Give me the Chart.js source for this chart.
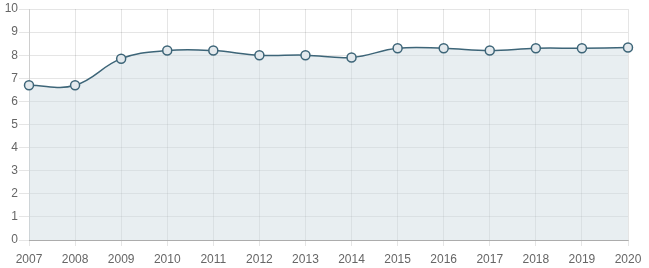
<!DOCTYPE html>
<html>
<head>
<meta charset="utf-8">
<script src="https://cdn.jsdelivr.net/npm/chart.js@4/dist/chart.umd.min.js"></script>
<style>
  html, body { margin: 0; padding: 0; background: #fff; }
  #wrap { width: 649px; height: 268px; }
</style>
</head>
<body>
<div id="wrap"><canvas id="chart"></canvas></div>
<script>
// Data
const years = ['2007', '2008', '2009', '2010', '2011', '2012', '2013', '2014', '2015', '2016', '2017', '2018', '2019', '2020'];
const values = [6.7, 6.7, 7.85, 8.2, 8.2, 8.0, 8.0, 7.9, 8.3, 8.3, 8.2, 8.3, 8.3, 8.33];
const yTicks = [0, 1, 2, 3, 4, 5, 6, 7, 8, 9, 10];

Chart.defaults.font.family = '"Liberation Sans", Arial, sans-serif';
Chart.defaults.font.size = 12;
Chart.defaults.color = '#666';

const ctx = document.getElementById('chart').getContext('2d');

new Chart(ctx, {
    type: 'line',
    data: {
        labels: years,
        datasets: [{
            data: values,
            borderColor: '#3d6578',
            borderWidth: 1.5,
            backgroundColor: 'rgba(205, 217, 224, 0.45)',
            fill: 'origin',
            tension: 0.4,
            pointRadius: 4.5,
            pointHoverRadius: 4.5,
            pointBorderWidth: 1.5,
            pointBorderColor: '#3d6578',
            pointBackgroundColor: '#e3e9ed',
        }]
    },
    options: {
        responsive: true,
        maintainAspectRatio: false,
        animation: false,
        layout: { padding: { top: 9, right: 21, left: 0, bottom: 0 } },
        plugins: {
            legend: { display: false },
            tooltip: { enabled: false }
        },
        scales: {
            x: {
                offset: false,
                grid: { color: 'rgba(0,0,0,0.1)', tickLength: 6 },
                border: { color: 'rgba(0,0,0,0.25)' },
                ticks: { maxRotation: 0, autoSkip: false, padding: 6 },
                afterFit: (scale) => { scale.height = 28; }
            },
            y: {
                min: 0,
                max: 10,
                afterBuildTicks: (scale) => { scale.ticks = yTicks.map(v => ({ value: v })); },
                grid: { color: 'rgba(0,0,0,0.1)', tickLength: 10 },
                border: { color: 'rgba(0,0,0,0.1)' },
                ticks: { padding: 1 },
                afterFit: (scale) => { scale.width = 29; }
            }
        }
    }
});
</script>
</body>
</html>
